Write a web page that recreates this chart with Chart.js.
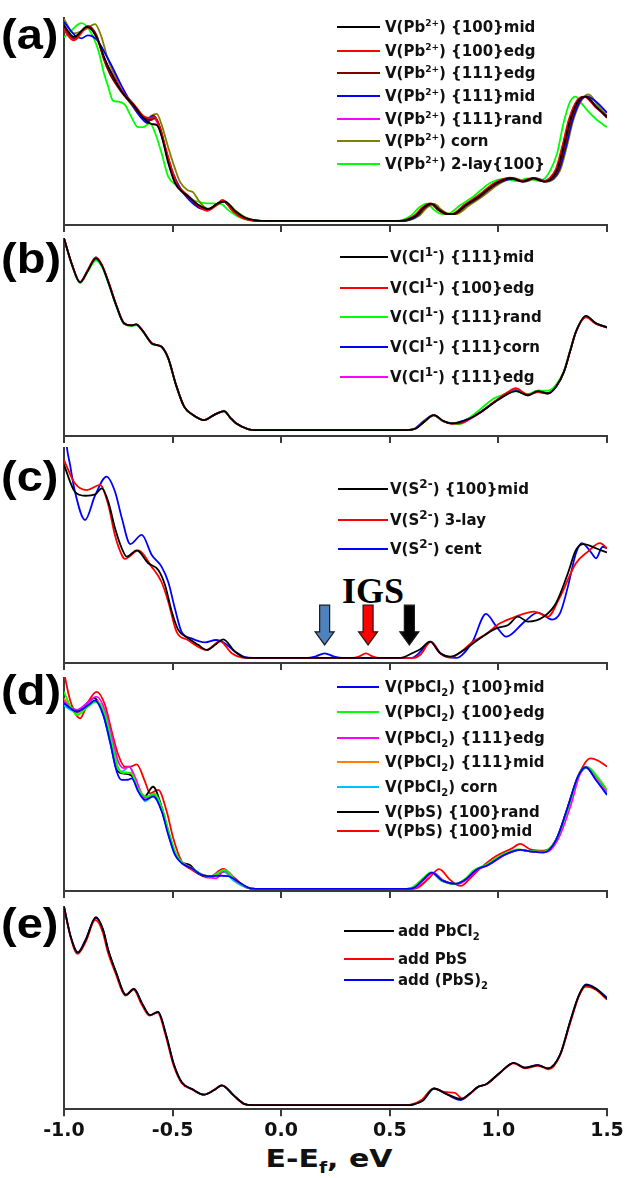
<!DOCTYPE html>
<html>
<head>
<meta charset="utf-8">
<script src="https://cdn.jsdelivr.net/npm/chart.js@4.4.0/dist/chart.umd.min.js"></script>
<style>
  html, body { margin: 0; padding: 0; background: #fff; }
  #page { position: relative; width: 627px; height: 1178px; overflow: hidden; }
  #page canvas { position: absolute; left: 0; }
  .plabel { position: absolute; left: 1px; font: bold 42px "Liberation Sans", Arial, sans-serif; line-height: 42px; transform: scaleX(1.12); transform-origin: left center; color: #000; }
  .lg-line { position: absolute; height: 2px; }
  .lg-text { position: absolute; font: bold 15px "DejaVu Sans", sans-serif; line-height: 20px; white-space: nowrap; color: #111; }
  .lg-text sup { font-size: 9px; vertical-align: 6px; line-height: 0; }
  .lg-text.big sup { font-size: 12px; vertical-align: 6px; }
  .lg-text sub { font-size: 10px; vertical-align: -4px; line-height: 0; }
  #igs { position: absolute; left: 342px; top: 573px; font: bold 36px "Liberation Serif", "Times New Roman", serif; line-height: 36px; color: #000; }
  #xtitle { position: absolute; left: 179px; width: 300px; top: 1147px; text-align: center; font: bold 24px "DejaVu Sans", sans-serif; line-height: 24px; color: #111; transform: scaleX(1.25); transform-origin: center center; }
  #xtitle sub { font-size: 15px; vertical-align: -6px; line-height: 0; }
</style>
</head>
<body>
<div id="page">
  <div id="igs">IGS</div>
  <div id="xtitle">E-E<sub>f</sub>, eV</div>
</div>
<script>
// energy axis
const energyTicks = [-1.0, -0.5, 0.0, 0.5, 1.0, 1.5];

// ---- (a) Pb2+ vacancies: [E, DOS]
const pbMid100 = [[-1.00,96],[-0.955,90.3],[-0.893,95.2],[-0.847,89.5],[-0.816,80.5],[-0.786,73.2],[-0.734,63.4],[-0.673,56],[-0.635,50.5],[-0.596,47.5],[-0.573,47],[-0.55,41.3],[-0.52,28.4],[-0.489,18.6],[-0.428,12],[-0.38,7.8],[-0.335,5.8],[-0.29,8.8],[-0.26,9.5],[-0.21,4.6],[-0.165,1.5],[-0.12,0.3],[-0.08,0],[0.55,0],[0.58,0.5],[0.62,2.5],[0.655,6.5],[0.69,8.5],[0.725,5.5],[0.76,3.5],[0.79,3.4],[0.85,7.8],[0.91,12],[0.99,18.5],[1.06,21],[1.11,19.3],[1.16,21],[1.21,19.3],[1.24,20.5],[1.27,25],[1.30,36.4],[1.33,49.5],[1.37,59.3],[1.40,61],[1.45,56],[1.50,51]];
const pbEdg100 = [[-1.00,93.5],[-0.955,88.5],[-0.89,95],[-0.85,90],[-0.816,80],[-0.786,73.5],[-0.734,64],[-0.673,56.5],[-0.635,51.5],[-0.60,50.5],[-0.585,51],[-0.56,46],[-0.53,35],[-0.50,24],[-0.475,17],[-0.43,12.5],[-0.38,7.5],[-0.34,5],[-0.30,7.5],[-0.27,10.3],[-0.22,4.5],[-0.175,1.2],[-0.13,0.2],[-0.09,0],[0.545,0],[0.575,0.6],[0.615,2.8],[0.65,6.6],[0.685,8.6],[0.72,5.5],[0.755,3.5],[0.785,3.4],[0.845,8],[0.905,12.3],[0.985,18.8],[1.055,21.2],[1.105,19.5],[1.155,21],[1.205,19.5],[1.235,20.8],[1.265,25.5],[1.295,37],[1.325,50],[1.365,59.5],[1.395,61],[1.45,55.5],[1.50,51.5]];
const pbEdg111 = [[-1.00,95],[-0.955,89.5],[-0.89,95.5],[-0.85,91],[-0.816,79],[-0.786,71.5],[-0.734,63],[-0.673,55.5],[-0.635,51],[-0.60,49.5],[-0.58,50.5],[-0.555,45],[-0.525,32],[-0.495,21],[-0.46,15],[-0.42,11],[-0.375,6.5],[-0.34,5.5],[-0.30,8],[-0.27,10],[-0.22,4.8],[-0.17,1.3],[-0.125,0.2],[-0.09,0],[0.555,0],[0.585,0.5],[0.625,2.6],[0.66,6.5],[0.695,8.4],[0.73,5.5],[0.765,3.5],[0.795,3.4],[0.855,7.8],[0.915,12],[0.995,18.4],[1.065,21],[1.115,19.3],[1.165,21],[1.215,19.2],[1.245,20.5],[1.275,25],[1.305,36.5],[1.335,49.5],[1.375,59.5],[1.405,61],[1.455,55.5],[1.50,50.5]];
const pbMid111 = [[-1.00,97.7],[-0.95,91],[-0.92,89.5],[-0.89,91],[-0.85,89],[-0.81,82],[-0.78,76],[-0.734,66],[-0.68,56],[-0.64,50],[-0.615,48],[-0.60,51],[-0.585,51.5],[-0.56,46],[-0.53,34],[-0.50,24],[-0.465,16],[-0.43,11],[-0.38,6.5],[-0.34,5.5],[-0.30,8],[-0.265,9.5],[-0.22,4.8],[-0.17,1.3],[-0.125,0.2],[-0.09,0],[0.56,0],[0.59,0.5],[0.63,2.8],[0.66,6.3],[0.69,8.3],[0.725,5.3],[0.76,3.5],[0.79,3.3],[0.85,7.5],[0.91,11.5],[0.99,18],[1.065,20.5],[1.115,19.3],[1.165,21],[1.215,19.5],[1.25,20.5],[1.28,25],[1.31,36],[1.34,49],[1.38,59.3],[1.41,61],[1.46,57.5],[1.50,53]];
const pbRand111 = [[-1.00,94.5],[-0.955,89],[-0.89,95.5],[-0.85,90.5],[-0.816,80],[-0.786,73.5],[-0.734,64],[-0.673,56],[-0.635,50.5],[-0.61,49],[-0.59,50.5],[-0.565,47],[-0.535,36],[-0.505,25],[-0.475,17.5],[-0.43,12.5],[-0.38,7.6],[-0.34,5.2],[-0.30,7.8],[-0.27,10],[-0.22,4.6],[-0.17,1.2],[-0.125,0.2],[-0.09,0],[0.55,0],[0.58,0.5],[0.62,2.6],[0.655,6.5],[0.69,8.5],[0.725,5.4],[0.76,3.5],[0.79,3.4],[0.85,7.8],[0.91,12.1],[0.99,18.6],[1.06,21],[1.11,19.4],[1.16,21],[1.21,19.4],[1.24,20.6],[1.27,25.2],[1.30,36.5],[1.33,49.5],[1.37,59.3],[1.40,60.8],[1.45,55.8],[1.50,51]];
const pbCorn = [[-1.00,99],[-0.955,92],[-0.90,94],[-0.857,96.5],[-0.83,91],[-0.797,79],[-0.76,70],[-0.735,64],[-0.69,57],[-0.65,51.5],[-0.62,49.5],[-0.60,51.5],[-0.573,52.5],[-0.55,47],[-0.52,36],[-0.49,26],[-0.465,19],[-0.43,15],[-0.405,14],[-0.38,10],[-0.34,6],[-0.30,7.5],[-0.26,9.6],[-0.21,5],[-0.16,1.5],[-0.12,0.3],[-0.08,0],[0.565,0],[0.595,0.5],[0.635,2.5],[0.67,6.4],[0.705,8.3],[0.74,5.3],[0.775,3.4],[0.805,3.3],[0.865,7.6],[0.925,11.8],[1.005,18.3],[1.075,21],[1.125,19.3],[1.175,21],[1.225,19.3],[1.255,20.5],[1.285,25],[1.315,36.5],[1.345,49.5],[1.385,59.5],[1.415,62],[1.46,56.5],[1.50,51.5]];
const pbLay2 = [[-1.00,90],[-0.97,93],[-0.92,97],[-0.885,94],[-0.843,84],[-0.815,72],[-0.797,66],[-0.775,59],[-0.75,58.5],[-0.72,57],[-0.69,51],[-0.66,46],[-0.635,46],[-0.604,48],[-0.58,43],[-0.55,33],[-0.52,21.7],[-0.475,16.8],[-0.44,12.5],[-0.40,10],[-0.355,8.7],[-0.30,8.5],[-0.27,8],[-0.245,5.4],[-0.20,2.2],[-0.16,0.6],[-0.12,0],[0.53,0],[0.56,0.5],[0.60,2.8],[0.635,6.6],[0.67,8.5],[0.705,5.3],[0.735,3.5],[0.765,3.4],[0.825,7.8],[0.885,12],[0.96,18.5],[1.03,20.6],[1.085,19.5],[1.135,20.8],[1.185,19.6],[1.215,21],[1.24,25],[1.27,33],[1.30,48],[1.33,58.5],[1.355,61],[1.38,58],[1.42,53],[1.46,49],[1.50,46]];

// ---- (b) Cl1- vacancies
const clMid111 = [[-1.00,99.8],[-0.963,86],[-0.926,76.9],[-0.89,83],[-0.853,89.4],[-0.825,85.5],[-0.797,77.3],[-0.76,65],[-0.724,55.6],[-0.69,54.5],[-0.668,55],[-0.64,52],[-0.595,45],[-0.575,44.3],[-0.55,43.3],[-0.52,37.3],[-0.484,23.4],[-0.447,12.2],[-0.41,8.2],[-0.355,5.2],[-0.31,7.8],[-0.263,9.9],[-0.235,6.5],[-0.208,3.5],[-0.153,0.5],[-0.12,0],[0.58,0],[0.62,0.8],[0.66,4.5],[0.703,7.8],[0.745,4.8],[0.786,3.5],[0.82,4],[0.86,5.6],[0.915,9],[0.989,15],[1.04,18.6],[1.08,20.3],[1.136,18],[1.182,20.3],[1.228,19],[1.265,22.5],[1.302,30.4],[1.33,41],[1.357,51.2],[1.403,59.5],[1.449,55.6],[1.50,53.5]];
const clEdg100 = [[-1.00,99.8],[-0.963,86],[-0.926,77],[-0.89,83.5],[-0.853,89.9],[-0.825,86],[-0.797,77.8],[-0.76,65.5],[-0.724,55.8],[-0.69,54.5],[-0.668,55],[-0.64,52],[-0.595,45.2],[-0.575,44.4],[-0.55,43.4],[-0.52,37.5],[-0.484,23.6],[-0.447,12.3],[-0.41,8.2],[-0.355,5.2],[-0.31,7.8],[-0.263,9.9],[-0.235,6.5],[-0.208,3.5],[-0.153,0.5],[-0.12,0],[0.58,0],[0.62,0.8],[0.66,4.5],[0.703,7.8],[0.745,4.8],[0.786,3.3],[0.83,3.6],[0.87,6],[0.92,9.5],[0.99,15.5],[1.04,19.5],[1.08,21.8],[1.136,18.5],[1.182,19.8],[1.228,19],[1.265,22.5],[1.302,30.4],[1.33,41],[1.357,51.2],[1.403,58.8],[1.449,55.3],[1.50,53.5]];
const clRand111 = [[-1.00,99.8],[-0.963,85.8],[-0.926,76.5],[-0.89,82.5],[-0.853,88.4],[-0.825,85],[-0.797,77],[-0.76,64.8],[-0.724,55.3],[-0.69,54.2],[-0.668,54.6],[-0.64,51.8],[-0.595,44.8],[-0.575,44.2],[-0.55,43.2],[-0.52,37.2],[-0.484,23.3],[-0.447,12.1],[-0.41,8.1],[-0.355,5.2],[-0.31,7.8],[-0.263,9.8],[-0.235,6.4],[-0.208,3.4],[-0.153,0.5],[-0.12,0],[0.58,0],[0.62,0.8],[0.66,4.5],[0.703,7.6],[0.745,4.6],[0.786,3.5],[0.82,3],[0.86,5.8],[0.91,10.2],[0.98,16.5],[1.04,19],[1.08,20.3],[1.136,18.7],[1.182,20.5],[1.228,20.5],[1.265,23.5],[1.302,31],[1.33,41.5],[1.357,51.2],[1.403,58.8],[1.449,55.6],[1.50,53.5]];
const clCorn111 = [[-1.00,99.8],[-0.963,86],[-0.926,76.8],[-0.89,83.2],[-0.853,89.9],[-0.825,85.6],[-0.797,77.4],[-0.76,65],[-0.724,55.5],[-0.69,54.4],[-0.668,54.9],[-0.64,51.9],[-0.595,45],[-0.575,44.3],[-0.55,43.3],[-0.52,37.3],[-0.484,23.4],[-0.447,12.2],[-0.41,8.2],[-0.355,5.2],[-0.31,7.8],[-0.263,9.9],[-0.235,6.5],[-0.208,3.5],[-0.153,0.5],[-0.12,0],[0.575,0],[0.615,0.8],[0.655,4.6],[0.70,7.8],[0.742,4.8],[0.786,3.5],[0.82,4.2],[0.86,5.8],[0.915,9.3],[0.989,15.3],[1.04,18.8],[1.08,20.5],[1.136,18.3],[1.182,20.5],[1.228,19.3],[1.265,22.5],[1.302,30.4],[1.33,41],[1.357,51.2],[1.403,59.2],[1.449,55.6],[1.50,53.5]];
const clEdg111 = [[-1.00,99.8],[-0.963,86.3],[-0.926,77.2],[-0.89,83.3],[-0.853,89],[-0.825,85.5],[-0.797,77.5],[-0.76,65.2],[-0.724,55.6],[-0.69,54.5],[-0.668,55],[-0.64,52],[-0.595,45],[-0.575,44.3],[-0.55,43.3],[-0.52,37.3],[-0.484,23.4],[-0.447,12.2],[-0.41,8.2],[-0.355,5.2],[-0.31,7.8],[-0.263,9.9],[-0.235,6.5],[-0.208,3.5],[-0.153,0.5],[-0.12,0],[0.58,0],[0.62,0.8],[0.66,4.5],[0.703,7.7],[0.745,4.7],[0.786,3.4],[0.83,3.5],[0.87,5.8],[0.92,9.3],[0.99,15.3],[1.04,19.2],[1.08,21],[1.136,18.4],[1.182,19.8],[1.228,19.2],[1.265,22.6],[1.302,30.4],[1.33,41],[1.357,51],[1.403,58.8],[1.449,55.4],[1.50,53.3]];

// ---- (c) S2- vacancies
const sMid100 = [[-1.00,91.5],[-0.95,78.8],[-0.903,76.9],[-0.857,77.5],[-0.826,80.4],[-0.796,74],[-0.765,61.5],[-0.734,52],[-0.711,48],[-0.665,51],[-0.612,44.9],[-0.566,41.7],[-0.535,34.6],[-0.504,22],[-0.474,13.3],[-0.428,9.3],[-0.382,6.2],[-0.343,3.8],[-0.30,6.5],[-0.267,8.8],[-0.213,3],[-0.167,0.2],[-0.13,0],[0.55,0],[0.602,2.2],[0.64,4.1],[0.686,7.7],[0.732,2.2],[0.778,0.6],[0.842,3.8],[0.916,9.3],[0.989,14],[1.045,15.6],[1.09,19.6],[1.136,17.2],[1.21,19.6],[1.265,25.9],[1.32,40.1],[1.357,51.2],[1.394,54],[1.449,52],[1.50,50]];
const sLay3 = [[-1.00,93.8],[-0.95,82.8],[-0.895,79.6],[-0.834,82],[-0.796,72.5],[-0.765,58],[-0.734,48.8],[-0.72,47],[-0.657,51],[-0.597,43.3],[-0.551,36],[-0.52,26.7],[-0.482,12.5],[-0.43,8.5],[-0.343,3.8],[-0.282,8],[-0.228,2.2],[-0.18,0.2],[-0.14,0],[0.33,0],[0.36,0.8],[0.39,2.2],[0.42,0.8],[0.45,0],[0.61,0],[0.64,1.5],[0.69,7.7],[0.735,2],[0.778,0.2],[0.83,3],[0.88,7.6],[0.935,10.7],[1.007,16.4],[1.08,19.6],[1.164,22],[1.228,19.6],[1.284,29],[1.357,44.9],[1.412,50.4],[1.468,54.4],[1.50,52]];
const sCent = [[-1.00,118],[-0.988,101],[-0.972,91.5],[-0.95,79],[-0.903,65.4],[-0.857,77],[-0.804,86],[-0.765,78.8],[-0.734,66.4],[-0.695,54],[-0.642,58.3],[-0.596,48.8],[-0.551,43.3],[-0.52,36],[-0.49,23.7],[-0.459,12.5],[-0.413,9.3],[-0.35,7.4],[-0.30,8.5],[-0.26,7],[-0.213,3],[-0.17,0.5],[-0.13,0],[0.12,0],[0.16,0.8],[0.20,2.2],[0.24,0.8],[0.28,0],[0.60,0],[0.618,0.8],[0.65,4],[0.686,7.7],[0.73,2.5],[0.805,0],[0.88,7.6],[0.943,20.9],[0.99,15],[1.036,10.1],[1.12,17.2],[1.182,21.5],[1.247,18.2],[1.284,21.2],[1.32,33.8],[1.357,49.6],[1.384,54.4],[1.43,49.6],[1.449,47.2],[1.48,52.7],[1.50,52]];

// ---- (d) PbCl2 / PbS vacancies
const pbcl2Mid100 = [[-1.00,87.6],[-0.97,85.2],[-0.942,83.6],[-0.888,86.8],[-0.857,89],[-0.819,82],[-0.788,69.5],[-0.757,55.3],[-0.734,51.4],[-0.705,51.5],[-0.688,52.2],[-0.658,45.9],[-0.627,42],[-0.589,43.5],[-0.55,36.5],[-0.52,25.5],[-0.489,16],[-0.458,12.1],[-0.412,9.7],[-0.366,6.6],[-0.32,6],[-0.28,6.2],[-0.245,6],[-0.198,3.4],[-0.152,0.6],[-0.12,0],[0.58,0],[0.611,0.5],[0.65,4],[0.694,7.7],[0.74,4],[0.805,2.4],[0.85,4.5],[0.897,8.9],[0.952,11.3],[1.026,16],[1.10,18.4],[1.155,17.6],[1.21,17.2],[1.265,23],[1.32,38.8],[1.366,53],[1.403,57.4],[1.449,51.4],[1.50,44.3]];
const pbcl2Edg100 = [[-1.00,93],[-0.97,86],[-0.94,82],[-0.89,86],[-0.85,88.4],[-0.81,82],[-0.78,69],[-0.75,57],[-0.73,54.8],[-0.69,54.5],[-0.66,47.5],[-0.62,43.5],[-0.585,45],[-0.545,37],[-0.515,26],[-0.484,16.5],[-0.45,12],[-0.41,9.6],[-0.365,6.8],[-0.32,6],[-0.26,9],[-0.21,4],[-0.16,0.8],[-0.12,0],[0.57,0],[0.60,0.5],[0.645,4.2],[0.69,7.8],[0.735,4],[0.80,2.3],[0.845,4.5],[0.89,9],[0.945,11.5],[1.02,16.3],[1.09,18.6],[1.15,17.8],[1.21,17.6],[1.27,24],[1.33,41],[1.37,54],[1.41,57.4],[1.455,53],[1.50,46.7]];
const pbcl2Edg111 = [[-1.00,88.5],[-0.97,86],[-0.94,84.5],[-0.89,88],[-0.85,90.7],[-0.81,84],[-0.78,72],[-0.75,60],[-0.725,57],[-0.70,57.7],[-0.67,52],[-0.63,43],[-0.585,44.5],[-0.55,37],[-0.52,27],[-0.49,17],[-0.455,12.5],[-0.41,9.5],[-0.36,6.5],[-0.30,5],[-0.26,8.8],[-0.21,4],[-0.16,0.7],[-0.12,0],[0.59,0],[0.62,0.6],[0.66,4.5],[0.70,7.7],[0.745,4],[0.81,2.2],[0.855,4.5],[0.90,8.8],[0.955,11.3],[1.03,16],[1.10,18.4],[1.16,17.6],[1.22,17.4],[1.275,23.5],[1.335,40],[1.375,54],[1.41,57.4],[1.455,52.5],[1.50,46]];
const pbcl2Mid111 = [[-1.00,90],[-0.97,86],[-0.94,83],[-0.89,86.5],[-0.852,88.8],[-0.812,82.5],[-0.782,70],[-0.752,57.5],[-0.73,55],[-0.69,54.8],[-0.66,48],[-0.622,43.2],[-0.587,44.8],[-0.547,37],[-0.517,26],[-0.486,16.5],[-0.452,12.2],[-0.41,9.6],[-0.365,6.7],[-0.32,6],[-0.262,8.8],[-0.212,4],[-0.16,0.8],[-0.12,0],[0.575,0],[0.605,0.5],[0.648,4.2],[0.692,7.7],[0.738,4],[0.802,2.3],[0.848,4.5],[0.893,8.9],[0.948,11.4],[1.023,16.2],[1.095,18.5],[1.152,17.7],[1.21,17.5],[1.268,23.5],[1.328,40.5],[1.368,53.5],[1.406,57.4],[1.452,52.5],[1.50,46]];
const pbcl2Corn = [[-1.00,86.5],[-0.97,84.5],[-0.94,83.5],[-0.89,87],[-0.86,88.6],[-0.82,82.5],[-0.79,70],[-0.76,58],[-0.73,55.5],[-0.70,57.7],[-0.67,51],[-0.625,41.3],[-0.59,44],[-0.55,37],[-0.52,26],[-0.49,16.5],[-0.455,12.3],[-0.41,9.7],[-0.365,6.6],[-0.32,6],[-0.27,8.5],[-0.22,4],[-0.16,0.6],[-0.12,0],[0.58,0],[0.61,0.5],[0.65,4],[0.694,7.6],[0.74,4],[0.805,2.4],[0.85,4.5],[0.897,8.8],[0.952,11.2],[1.026,16],[1.10,18.3],[1.155,17.6],[1.21,17.3],[1.265,23],[1.322,39],[1.368,53],[1.405,57.4],[1.451,52],[1.50,45.5]];
const pbsRand100 = [[-1.00,88],[-0.97,86],[-0.94,84],[-0.89,88],[-0.86,90],[-0.82,83],[-0.79,71],[-0.76,57],[-0.73,54.5],[-0.69,53.5],[-0.66,48],[-0.63,43.5],[-0.59,48.2],[-0.55,38.5],[-0.52,27],[-0.49,17.5],[-0.455,12.5],[-0.42,11.3],[-0.39,8],[-0.35,6],[-0.31,6.3],[-0.265,8.2],[-0.21,4],[-0.16,0.7],[-0.12,0],[0.58,0],[0.61,0.5],[0.65,4],[0.694,7.6],[0.74,4],[0.805,2.4],[0.85,4.5],[0.897,8.9],[0.952,11.3],[1.026,16],[1.10,18.4],[1.155,17.6],[1.21,17.3],[1.265,23],[1.32,38.8],[1.366,53],[1.403,57.4],[1.449,51.8],[1.50,45]];
const pbsMid100 = [[-1.00,102],[-0.97,88.4],[-0.926,80.5],[-0.888,88.4],[-0.85,93],[-0.811,86.8],[-0.78,74.2],[-0.75,63.2],[-0.72,57.7],[-0.695,57.7],[-0.665,58.8],[-0.627,50.6],[-0.604,45.1],[-0.566,46.7],[-0.527,36.5],[-0.497,23.9],[-0.458,12.9],[-0.412,9],[-0.366,6.3],[-0.335,5.3],[-0.267,9.4],[-0.213,5],[-0.167,1.1],[-0.13,0],[0.60,0],[0.63,0.6],[0.68,5],[0.727,9.3],[0.78,4],[0.827,1.4],[0.87,5],[0.92,10],[0.99,15.5],[1.06,19],[1.10,21.2],[1.15,18.5],[1.21,18],[1.27,24],[1.33,42],[1.38,56],[1.422,61.6],[1.46,60.5],[1.50,57.7]];

// ---- (e) added units
const addPbCl2 = [[-1.00,99.7],[-0.97,85],[-0.936,76.6],[-0.90,83],[-0.853,94.4],[-0.82,88],[-0.797,78.2],[-0.76,66.7],[-0.715,55.4],[-0.678,58.4],[-0.64,51],[-0.604,45.2],[-0.567,46.9],[-0.53,35.3],[-0.494,20.4],[-0.457,11.4],[-0.41,8.1],[-0.355,5.3],[-0.31,7.5],[-0.273,10],[-0.217,4.8],[-0.171,0.7],[-0.13,0],[0.58,0],[0.606,0.3],[0.652,2.3],[0.703,8.4],[0.763,5.6],[0.827,3.1],[0.87,6],[0.906,9.2],[0.943,10.5],[1.007,16.3],[1.071,21.3],[1.122,18.8],[1.182,20.1],[1.228,18.5],[1.284,25.4],[1.33,41.9],[1.37,55],[1.403,60.4],[1.449,58.4],[1.50,53.5]];
const addPbS = [[-1.00,99.7],[-0.97,84.5],[-0.938,76],[-0.90,82],[-0.856,93],[-0.822,87],[-0.8,77.5],[-0.762,66],[-0.717,55],[-0.68,58],[-0.642,50.5],[-0.606,45],[-0.569,46.5],[-0.532,35],[-0.496,20.2],[-0.459,11.3],[-0.412,8],[-0.357,5.3],[-0.312,7.5],[-0.275,10],[-0.219,4.8],[-0.173,0.7],[-0.13,0],[0.575,0],[0.6,0.4],[0.648,2.8],[0.70,8.3],[0.76,6.5],[0.80,6.2],[0.835,3.3],[0.875,6.2],[0.91,9.4],[0.945,10.5],[1.007,16.2],[1.071,21],[1.122,18.5],[1.182,19.8],[1.232,18],[1.284,25],[1.33,41],[1.37,54.5],[1.403,59.5],[1.449,58],[1.50,53]];
const addPbS2 = [[-1.00,99.7],[-0.97,85],[-0.936,76.8],[-0.90,83.2],[-0.853,94],[-0.82,88],[-0.797,78],[-0.76,66.5],[-0.715,55.4],[-0.678,58.4],[-0.64,51],[-0.604,45.2],[-0.567,46.9],[-0.53,35.3],[-0.494,20.4],[-0.457,11.4],[-0.41,8.1],[-0.355,5.3],[-0.31,7.5],[-0.273,10],[-0.217,4.8],[-0.171,0.7],[-0.13,0],[0.58,0],[0.606,0.3],[0.652,2.3],[0.703,8.4],[0.763,5.4],[0.827,2.6],[0.87,5.8],[0.906,9.2],[0.943,10.5],[1.007,16.3],[1.071,21.3],[1.122,18.8],[1.182,20.1],[1.228,18.5],[1.284,25.4],[1.33,41.9],[1.37,55],[1.403,60.6],[1.449,58.6],[1.50,54]];

// legend texts
const labelsA = ['V(Pb<sup>2+</sup>) {100}mid','V(Pb<sup>2+</sup>) {100}edg','V(Pb<sup>2+</sup>) {111}edg','V(Pb<sup>2+</sup>) {111}mid','V(Pb<sup>2+</sup>) {111}rand','V(Pb<sup>2+</sup>) corn','V(Pb<sup>2+</sup>) 2-lay{100}'];
const labelsB = ['V(Cl<sup>1-</sup>) {111}mid','V(Cl<sup>1-</sup>) {100}edg','V(Cl<sup>1-</sup>) {111}rand','V(Cl<sup>1-</sup>) {111}corn','V(Cl<sup>1-</sup>) {111}edg'];
const labelsC = ['V(S<sup>2-</sup>) {100}mid','V(S<sup>2-</sup>) 3-lay','V(S<sup>2-</sup>) cent'];
const labelsD = ['V(PbCl<sub>2</sub>) {100}mid','V(PbCl<sub>2</sub>) {100}edg','V(PbCl<sub>2</sub>) {111}edg','V(PbCl<sub>2</sub>) {111}mid','V(PbCl<sub>2</sub>) corn','V(PbS) {100}rand','V(PbS) {100}mid'];
const labelsE = ['add PbCl<sub>2</sub>','add PbS','add (PbS)<sub>2</sub>'];

// IGS arrows (energy positions)
const igsArrowE = [0.2, 0.4, 0.59];

// styles
const colorsA = ['#000000','#ff0000','#800000','#0000ff','#ff00ff','#808000','#00ff00'];
const colorsB = ['#000000','#ff0000','#00ff00','#0000ff','#ff00ff'];
const colorsC = ['#000000','#ff0000','#0000ff'];
const colorsD = ['#0000ff','#00ff00','#ff00ff','#ff8000','#00bfff','#000000','#ff0000'];
const colorsE = ['#000000','#ff0000','#0000ff'];
const arrowColors = ['#4f81bd','#ff0000','#000000'];
const axisColor = '#3a3a3a';

const panels = [
  { tag: '(a)', series: [pbMid100, pbEdg100, pbEdg111, pbMid111, pbRand111, pbCorn, pbLay2], labels: labelsA, colors: colorsA,
    top: 17, plotH: 208, yMin: -2, tagY: 39, lg: { lineX: 337, lineW: 43, textX: 385, big: false, rows: [27, 50.5, 73.3, 96, 118.5, 141.3, 163.5] } },
  { tag: '(b)', series: [clMid111, clEdg100, clRand111, clCorn111, clEdg111], labels: labelsB, colors: colorsB,
    top: 238, plotH: 198, yMin: -3.1, tagY: 263, lg: { lineX: 340, lineW: 48, textX: 390, big: true, rows: [257, 288, 317, 347, 377] } },
  { tag: '(c)', series: [sMid100, sLay3, sCent], labels: labelsC, colors: colorsC,
    top: 447, plotH: 216, yMin: -2.4, tagY: 481, lg: { lineX: 338, lineW: 50, textX: 390, big: true, rows: [489, 520, 549] } },
  { tag: '(d)', series: [pbcl2Mid100, pbcl2Edg100, pbcl2Edg111, pbcl2Mid111, pbcl2Corn, pbsRand100, pbsMid100], labels: labelsD, colors: colorsD,
    top: 677, plotH: 214, yMin: -1, tagY: 695, lg: { lineX: 337, lineW: 42, textX: 385, big: false, rows: [687, 712, 737.5, 762, 787, 811.5, 831] } },
  { tag: '(e)', series: [addPbCl2, addPbS, addPbS2], labels: labelsE, colors: colorsE,
    top: 906, plotH: 206, yMin: -2, tagY: 928, lg: { lineX: 344, lineW: 50, textX: 398, big: false, rows: [931, 959, 980] } }
];

const igsPlugin = {
  id: 'igsArrows',
  afterDatasetsDraw(chart) {
    const { ctx, scales: { x, y } } = chart;
    const top = y.getPixelForValue(25);
    const tip = y.getPixelForValue(6.2);
    igsArrowE.forEach((e, i) => {
      const cx = x.getPixelForValue(e);
      ctx.save();
      ctx.beginPath();
      ctx.moveTo(cx - 5, top);
      ctx.lineTo(cx + 5, top);
      ctx.lineTo(cx + 5, tip - 13);
      ctx.lineTo(cx + 9.5, tip - 13);
      ctx.lineTo(cx, tip);
      ctx.lineTo(cx - 9.5, tip - 13);
      ctx.lineTo(cx - 5, tip - 13);
      ctx.closePath();
      ctx.fillStyle = arrowColors[i];
      ctx.fill();
      ctx.lineWidth = 1.2;
      ctx.strokeStyle = '#1a1a1a';
      ctx.stroke();
      ctx.restore();
    });
  }
};

const page = document.getElementById('page');

panels.forEach((p, i) => {
  const last = i === panels.length - 1;
  const h = p.plotH + (last ? 33 : 7);
  const cv = document.createElement('canvas');
  cv.width = 627; cv.height = h;
  cv.style.top = p.top + 'px';
  cv.style.width = '627px'; cv.style.height = h + 'px';
  page.appendChild(cv);

  new Chart(cv, {
    type: 'line',
    data: {
      datasets: p.series.map((s, k) => ({
        label: p.labels[k],
        data: s.map(([x, y]) => ({ x, y })),
        borderColor: p.colors[k],
        borderWidth: 1.8,
        pointRadius: 0,
        cubicInterpolationMode: 'monotone',
        fill: false
      }))
    },
    options: {
      responsive: false,
      animation: false,
      devicePixelRatio: 1,
      layout: { padding: { left: 64, right: 20, top: 0, bottom: 0 } },
      plugins: { legend: { display: false }, tooltip: { enabled: false } },
      scales: {
        x: {
          type: 'linear', min: -1, max: 1.5,
          afterBuildTicks: axis => { axis.ticks = energyTicks.map(v => ({ value: v })); },
          grid: { drawOnChartArea: false, drawTicks: true, tickLength: 7, color: axisColor, lineWidth: 2 },
          border: { display: true, color: axisColor, width: 2 },
          ticks: { display: last, padding: 3, color: '#111', maxRotation: 0,
                   font: { family: 'DejaVu Sans', size: 19, weight: 'bold' },
                   callback: v => Number(v).toFixed(1) }
        },
        y: {
          min: p.yMin, max: 100,
          grid: { display: false, drawTicks: false },
          border: { display: true, color: axisColor, width: 2 },
          ticks: { display: false }
        }
      }
    },
    plugins: p.tag === '(c)' ? [igsPlugin] : []
  });

  // panel tag
  const tg = document.createElement('div');
  tg.className = 'plabel';
  tg.style.top = (p.tagY - 25) + 'px';
  tg.textContent = p.tag;
  page.appendChild(tg);

  // legend
  p.labels.forEach((lab, k) => {
    const y = p.lg.rows[k];
    const ln = document.createElement('div');
    ln.className = 'lg-line';
    ln.style.left = p.lg.lineX + 'px';
    ln.style.width = p.lg.lineW + 'px';
    ln.style.top = (y - 1) + 'px';
    ln.style.background = p.colors[k];
    page.appendChild(ln);
    const tx = document.createElement('div');
    tx.className = 'lg-text' + (p.lg.big ? ' big' : '');
    tx.style.left = p.lg.textX + 'px';
    tx.style.top = (y - 10) + 'px';
    tx.innerHTML = lab;
    page.appendChild(tx);
  });
});
</script>
</body>
</html>
